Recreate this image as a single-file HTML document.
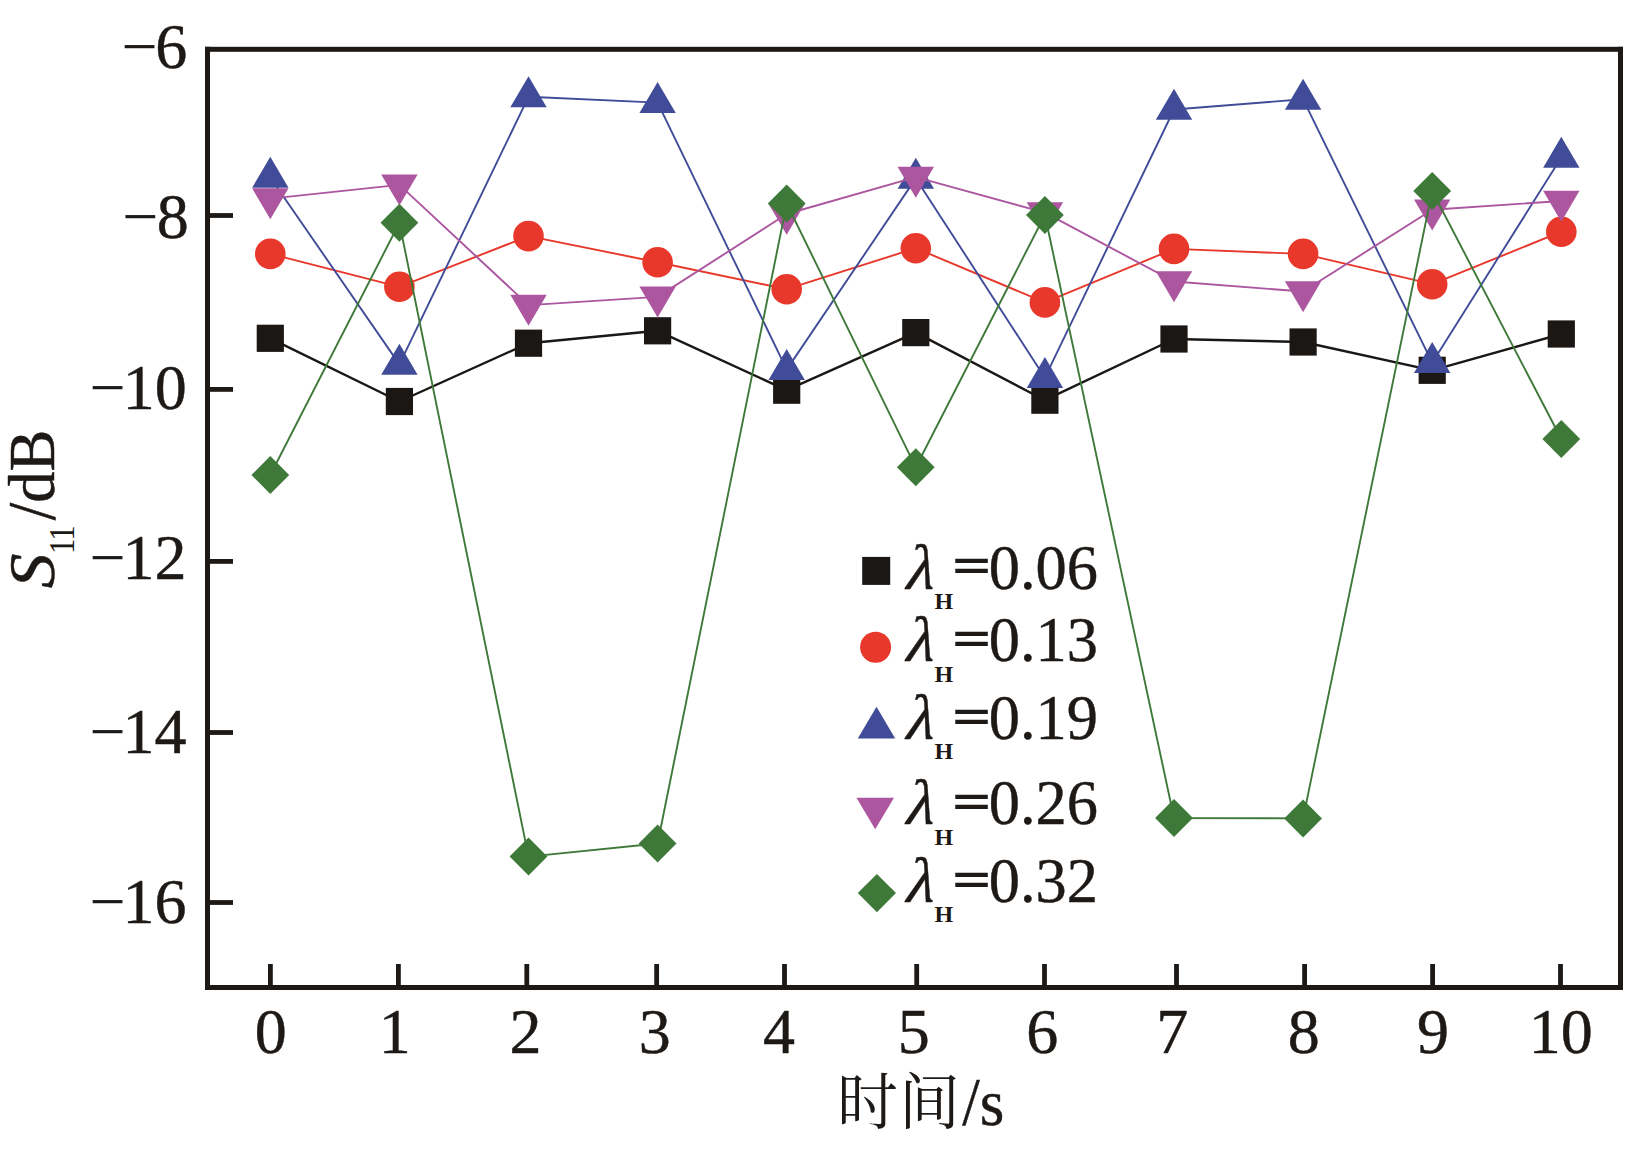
<!DOCTYPE html>
<html lang="zh"><head><meta charset="utf-8"><title>S11 时间曲线</title>
<style>
html,body{margin:0;padding:0;background:#fff;}
body{width:1652px;height:1149px;overflow:hidden;}
svg{display:block;}
text{font-family:"Liberation Serif","Noto Serif CJK SC",serif;fill:#1d1916;}
.n{font-size:64px;}
.n,.w{stroke:#1d1916;stroke-width:0.45px;stroke-linejoin:round;}
.it{font-style:italic;}
.cjk{font-family:"Noto Serif CJK SC","Liberation Serif",serif;}
</style></head><body>
<svg width="1652" height="1149" viewBox="0 0 1652 1149">
<rect width="1652" height="1149" fill="#ffffff"/>
<g id="series">
<polyline points="270.3,338.3 399.4,401.5 528.5,343.2 657.6,330.8 786.7,390.2 915.8,332.6 1044.9,400.2 1174,339 1303.1,342 1432.2,370.3 1561.3,334" fill="none" stroke="#1b1714" stroke-width="2.4" stroke-linejoin="round"/>
<rect x="256.7" y="324.7" width="27.2" height="27.2" fill="#1b1714"/>
<rect x="385.8" y="387.9" width="27.2" height="27.2" fill="#1b1714"/>
<rect x="514.9" y="329.6" width="27.2" height="27.2" fill="#1b1714"/>
<rect x="644" y="317.2" width="27.2" height="27.2" fill="#1b1714"/>
<rect x="773.1" y="376.6" width="27.2" height="27.2" fill="#1b1714"/>
<rect x="902.2" y="319" width="27.2" height="27.2" fill="#1b1714"/>
<rect x="1031.3" y="386.6" width="27.2" height="27.2" fill="#1b1714"/>
<rect x="1160.4" y="325.4" width="27.2" height="27.2" fill="#1b1714"/>
<rect x="1289.5" y="328.4" width="27.2" height="27.2" fill="#1b1714"/>
<rect x="1418.6" y="356.7" width="27.2" height="27.2" fill="#1b1714"/>
<rect x="1547.7" y="320.4" width="27.2" height="27.2" fill="#1b1714"/>
<polyline points="270.3,253.9 399.4,286.8 528.5,236.1 657.6,262.2 786.7,289.2 915.8,248.2 1044.9,302.4 1174,248.9 1303.1,253.9 1432.2,284.2 1561.3,231.7" fill="none" stroke="#e8382b" stroke-width="1.9" stroke-linejoin="round"/>
<circle cx="270.3" cy="253.9" r="15.3" fill="#e8382b"/>
<circle cx="399.4" cy="286.8" r="15.3" fill="#e8382b"/>
<circle cx="528.5" cy="236.1" r="15.3" fill="#e8382b"/>
<circle cx="657.6" cy="262.2" r="15.3" fill="#e8382b"/>
<circle cx="786.7" cy="289.2" r="15.3" fill="#e8382b"/>
<circle cx="915.8" cy="248.2" r="15.3" fill="#e8382b"/>
<circle cx="1044.9" cy="302.4" r="15.3" fill="#e8382b"/>
<circle cx="1174" cy="248.9" r="15.3" fill="#e8382b"/>
<circle cx="1303.1" cy="253.9" r="15.3" fill="#e8382b"/>
<circle cx="1432.2" cy="284.2" r="15.3" fill="#e8382b"/>
<circle cx="1561.3" cy="231.7" r="15.3" fill="#e8382b"/>
<polyline points="270.3,177.5 399.4,364.4 528.5,96.8 657.6,102.6 786.7,369.6 915.8,178.4 1044.9,377.7 1174,109.5 1303.1,99.3 1432.2,362.7 1561.3,157.5" fill="none" stroke="#404c98" stroke-width="1.9" stroke-linejoin="round"/>
<polygon points="270.3,156.83 288.5,187.83 252.1,187.83" fill="#404c98"/>
<polygon points="399.4,343.73 417.6,374.73 381.2,374.73" fill="#404c98"/>
<polygon points="528.5,76.13 546.7,107.13 510.3,107.13" fill="#404c98"/>
<polygon points="657.6,81.93 675.8,112.93 639.4,112.93" fill="#404c98"/>
<polygon points="786.7,348.93 804.9,379.93 768.5,379.93" fill="#404c98"/>
<polygon points="915.8,157.73 934,188.73 897.6,188.73" fill="#404c98"/>
<polygon points="1044.9,357.03 1063.1,388.03 1026.7,388.03" fill="#404c98"/>
<polygon points="1174,88.83 1192.2,119.83 1155.8,119.83" fill="#404c98"/>
<polygon points="1303.1,78.63 1321.3,109.63 1284.9,109.63" fill="#404c98"/>
<polygon points="1432.2,342.03 1450.4,373.03 1414,373.03" fill="#404c98"/>
<polygon points="1561.3,136.83 1579.5,167.83 1543.1,167.83" fill="#404c98"/>
<polyline points="270.3,198.6 399.4,184.9 528.5,305.1 657.6,296.9 786.7,214 915.8,177.1 1044.9,212.6 1174,281.5 1303.1,291.5 1432.2,209.8 1561.3,201" fill="none" stroke="#ab569f" stroke-width="1.9" stroke-linejoin="round"/>
<polygon points="252.1,188.27 288.5,188.27 270.3,219.27" fill="#ab569f"/>
<polygon points="381.2,174.57 417.6,174.57 399.4,205.57" fill="#ab569f"/>
<polygon points="510.3,294.77 546.7,294.77 528.5,325.77" fill="#ab569f"/>
<polygon points="639.4,286.57 675.8,286.57 657.6,317.57" fill="#ab569f"/>
<polygon points="768.5,203.67 804.9,203.67 786.7,234.67" fill="#ab569f"/>
<polygon points="897.6,166.77 934,166.77 915.8,197.77" fill="#ab569f"/>
<polygon points="1026.7,202.27 1063.1,202.27 1044.9,233.27" fill="#ab569f"/>
<polygon points="1155.8,271.17 1192.2,271.17 1174,302.17" fill="#ab569f"/>
<polygon points="1284.9,281.17 1321.3,281.17 1303.1,312.17" fill="#ab569f"/>
<polygon points="1414,199.47 1450.4,199.47 1432.2,230.47" fill="#ab569f"/>
<polygon points="1543.1,190.67 1579.5,190.67 1561.3,221.67" fill="#ab569f"/>
<polyline points="270.3,475 399.4,222.8 528.5,856.6 657.6,843.5 786.7,203.5 915.8,467.3 1044.9,215 1174,818 1303.1,818.4 1432.2,191 1561.3,439" fill="none" stroke="#3f793a" stroke-width="1.9" stroke-linejoin="round"/>
<polygon points="270.3,456 289.2,475 270.3,494 251.4,475" fill="#3f793a"/>
<polygon points="399.4,203.8 418.3,222.8 399.4,241.8 380.5,222.8" fill="#3f793a"/>
<polygon points="528.5,837.6 547.4,856.6 528.5,875.6 509.6,856.6" fill="#3f793a"/>
<polygon points="657.6,824.5 676.5,843.5 657.6,862.5 638.7,843.5" fill="#3f793a"/>
<polygon points="786.7,184.5 805.6,203.5 786.7,222.5 767.8,203.5" fill="#3f793a"/>
<polygon points="915.8,448.3 934.7,467.3 915.8,486.3 896.9,467.3" fill="#3f793a"/>
<polygon points="1044.9,196 1063.8,215 1044.9,234 1026,215" fill="#3f793a"/>
<polygon points="1174,799 1192.9,818 1174,837 1155.1,818" fill="#3f793a"/>
<polygon points="1303.1,799.4 1322,818.4 1303.1,837.4 1284.2,818.4" fill="#3f793a"/>
<polygon points="1432.2,172 1451.1,191 1432.2,210 1413.3,191" fill="#3f793a"/>
<polygon points="1561.3,420 1580.2,439 1561.3,458 1542.4,439" fill="#3f793a"/>
</g>
<g id="axes" fill="#1d1916">
<rect x="205" y="46.8" width="1418" height="5"/>
<rect x="205" y="985" width="1418" height="5"/>
<rect x="205" y="46.8" width="5" height="943.2"/>
<rect x="1618" y="46.8" width="5" height="943.2"/>
<rect x="209" y="213.1" width="24" height="4.8"/>
<rect x="209" y="387" width="24" height="4.8"/>
<rect x="209" y="559" width="24" height="4.8"/>
<rect x="209" y="730.1" width="24" height="4.8"/>
<rect x="209" y="900.1" width="24" height="4.8"/>
<rect x="268" y="964" width="4.8" height="22"/>
<rect x="396" y="964" width="4.8" height="22"/>
<rect x="524.4" y="964" width="4.8" height="22"/>
<rect x="654.25" y="964" width="4.8" height="22"/>
<rect x="782.1" y="964" width="4.8" height="22"/>
<rect x="914.3" y="964" width="4.8" height="22"/>
<rect x="1042.1" y="964" width="4.8" height="22"/>
<rect x="1174.1" y="964" width="4.8" height="22"/>
<rect x="1302.2" y="964" width="4.8" height="22"/>
<rect x="1430.2" y="964" width="4.8" height="22"/>
<rect x="1558.1" y="964" width="4.8" height="22"/>
</g>
<g id="ylabels" class="n">
<text x="121.5" y="68.2" stroke="none">−</text><text x="155.3" y="68.2">6</text>
<text x="122.3" y="238.2" stroke="none">−</text><text x="156.7" y="238.2">8</text>
<text x="89.4" y="408.8" stroke="none">−</text><text x="122.7" y="408.8">10</text>
<text x="89.4" y="578.7" stroke="none">−</text><text x="122.6" y="578.7">12</text>
<text x="89.4" y="753" stroke="none">−</text><text x="122.5" y="753">14</text>
<text x="89.4" y="923" stroke="none">−</text><text x="122.5" y="923">16</text>
</g>
<g id="xlabels" class="n">
<text x="254.8" y="1052.8">0</text>
<text x="378.65" y="1052.8">1</text>
<text x="509.45" y="1052.8">2</text>
<text x="638.66" y="1052.8">3</text>
<text x="763.07" y="1052.8">4</text>
<text x="897.74" y="1052.8">5</text>
<text x="1026.18" y="1052.8">6</text>
<text x="1156.32" y="1052.8">7</text>
<text x="1287.65" y="1052.8">8</text>
<text x="1417.04" y="1052.8">9</text>
<text x="1528.7" y="1052.8">10</text>
</g>
<g id="xtitle">
<text class="cjk" x="837.1" y="1124.4" font-size="61" letter-spacing="1">时间</text>
<text class="w" transform="translate(962.3,1124.1) scale(0.97,1.03)" font-size="65">/</text>
<text class="w" transform="translate(979.8,1125) scale(0.97,1)" font-size="65">s</text>
</g>
<g id="ytitle" transform="translate(54,0) rotate(-90)">
<text class="it w" transform="translate(-588.2,0) scale(1.07,1)" font-size="65">S</text>
<text transform="translate(-553.9,20) scale(0.87,1)" font-size="35.5" letter-spacing="-1.3">11</text>
<text class="w" transform="translate(-520.2,0) scale(0.965,1.045)" font-size="65">/</text>
<text class="w" transform="translate(-502.8,0) scale(0.965,1)" font-size="65">dB</text>
</g>
<g id="legend">
<rect x="862.2" y="556.9" width="28" height="28" fill="#1b1714"/>
<circle cx="875.6" cy="647.3" r="15.5" fill="#e8382b"/>
<polygon points="876.5,706.8 895.2,738.5 857.8,738.5" fill="#404c98"/>
<polygon points="856.5,797.8 894,797.8 875.2,829.3" fill="#ab569f"/>
<polygon points="876.9,874 896,893.1 876.9,912.2 857.8,893.1" fill="#3f793a"/>
<text class="n it" transform="translate(906.3,588.5) skewX(-5)">λ</text>
<text transform="translate(934.4,608.9) scale(1.0001,1)" font-size="24" font-weight="bold">H</text>
<text x="949.7" y="582.35" font-size="52" style="font-family:'DejaVu Sans',sans-serif">=</text>
<text class="n" transform="translate(988.7,588.5) scale(0.975,1)">0.06</text>
<text class="n it" transform="translate(906.3,661.2) skewX(-5)">λ</text>
<text transform="translate(934.4,681.6) scale(1.0001,1)" font-size="24" font-weight="bold">H</text>
<text x="949.7" y="655.05" font-size="52" style="font-family:'DejaVu Sans',sans-serif">=</text>
<text class="n" transform="translate(988.7,661.2) scale(0.975,1)">0.13</text>
<text class="n it" transform="translate(906.3,738.9) skewX(-5)">λ</text>
<text transform="translate(934.4,759.3) scale(1.0001,1)" font-size="24" font-weight="bold">H</text>
<text x="949.7" y="732.75" font-size="52" style="font-family:'DejaVu Sans',sans-serif">=</text>
<text class="n" transform="translate(988.7,738.9) scale(0.975,1)">0.19</text>
<text class="n it" transform="translate(906.3,824.1) skewX(-5)">λ</text>
<text transform="translate(934.4,844.5) scale(1.0001,1)" font-size="24" font-weight="bold">H</text>
<text x="949.7" y="817.95" font-size="52" style="font-family:'DejaVu Sans',sans-serif">=</text>
<text class="n" transform="translate(988.7,824.1) scale(0.975,1)">0.26</text>
<text class="n it" transform="translate(906.3,901.7) skewX(-5)">λ</text>
<text transform="translate(934.4,922.1) scale(1.0001,1)" font-size="24" font-weight="bold">H</text>
<text x="949.7" y="895.55" font-size="52" style="font-family:'DejaVu Sans',sans-serif">=</text>
<text class="n" transform="translate(988.7,901.7) scale(0.975,1)">0.32</text>
</g>
</svg>
</body></html>
